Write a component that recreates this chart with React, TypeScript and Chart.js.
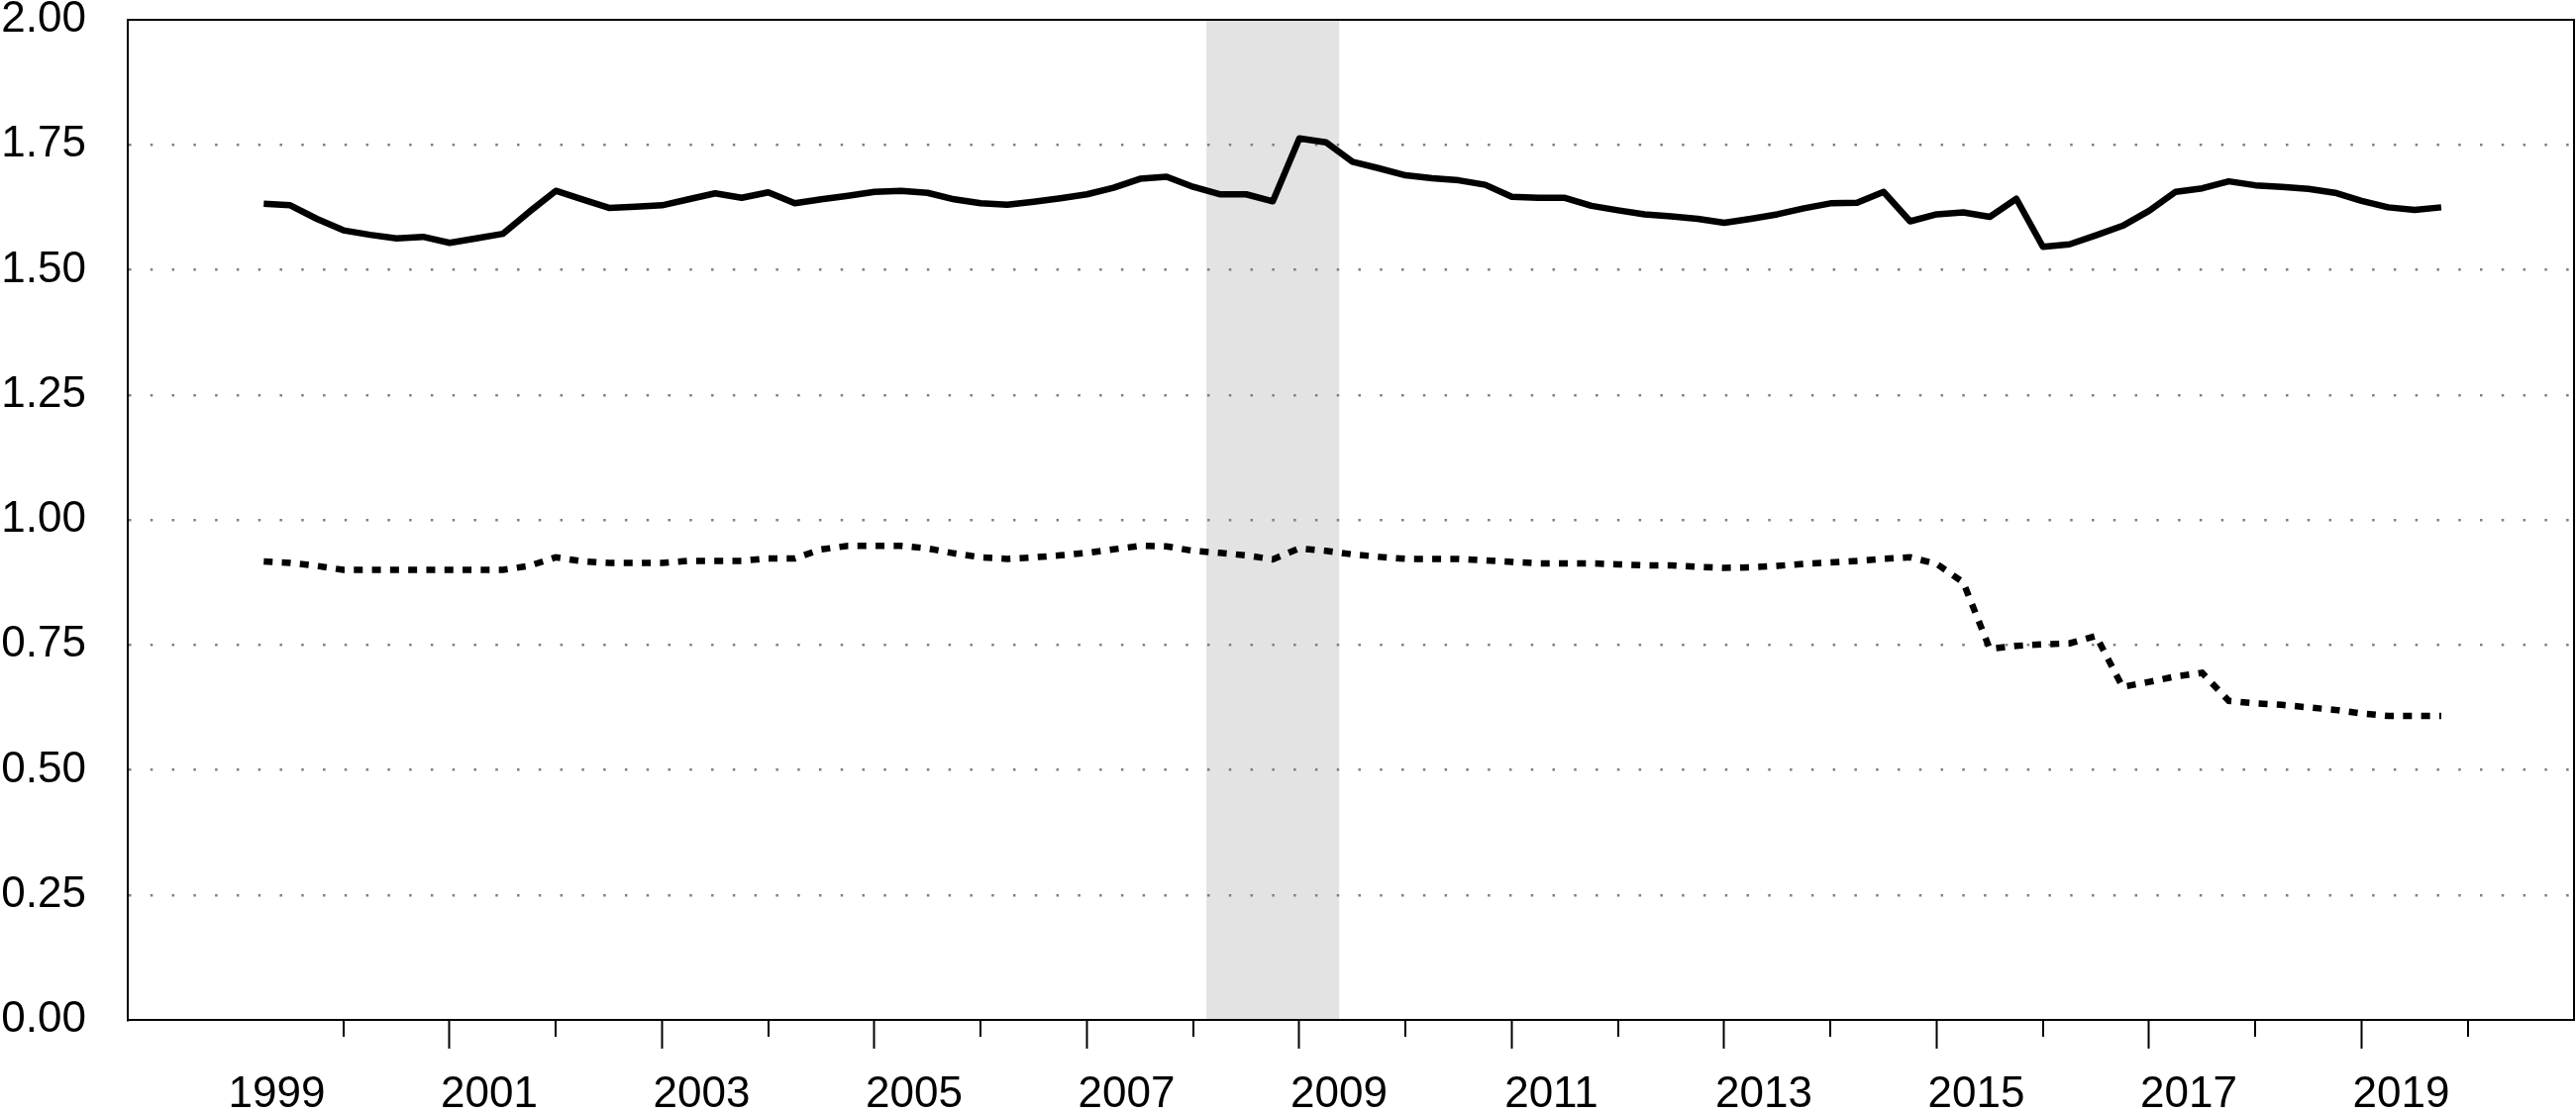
import React, { useEffect, useRef } from "react";
import { Chart, registerables } from "chart.js";

Chart.register(...registerables);

// Quarterly categories (each point is plotted at the start of its quarter)
const QUARTERS: string[] = [
  "1999Q2", "1999Q3", "1999Q4",
  "2000Q1", "2000Q2", "2000Q3", "2000Q4",
  "2001Q1", "2001Q2", "2001Q3", "2001Q4",
  "2002Q1", "2002Q2", "2002Q3", "2002Q4",
  "2003Q1", "2003Q2", "2003Q3", "2003Q4",
  "2004Q1", "2004Q2", "2004Q3", "2004Q4",
  "2005Q1", "2005Q2", "2005Q3", "2005Q4",
  "2006Q1", "2006Q2", "2006Q3", "2006Q4",
  "2007Q1", "2007Q2", "2007Q3", "2007Q4",
  "2008Q1", "2008Q2", "2008Q3", "2008Q4",
  "2009Q1", "2009Q2", "2009Q3", "2009Q4",
  "2010Q1", "2010Q2", "2010Q3", "2010Q4",
  "2011Q1", "2011Q2", "2011Q3", "2011Q4",
  "2012Q1", "2012Q2", "2012Q3", "2012Q4",
  "2013Q1", "2013Q2", "2013Q3", "2013Q4",
  "2014Q1", "2014Q2", "2014Q3", "2014Q4",
  "2015Q1", "2015Q2", "2015Q3", "2015Q4",
  "2016Q1", "2016Q2", "2016Q3", "2016Q4",
  "2017Q1", "2017Q2", "2017Q3", "2017Q4",
  "2018Q1", "2018Q2", "2018Q3", "2018Q4",
  "2019Q1", "2019Q2", "2019Q3", "2019Q4",
];

// Solid series
const SOLID_SERIES: number[] = [
  1.632, 1.629, 1.602,
  1.579, 1.570, 1.563, 1.566,
  1.554, 1.563, 1.572, 1.616,
  1.658, 1.641, 1.624, 1.626,
  1.629, 1.641, 1.653, 1.644,
  1.655, 1.633, 1.641, 1.648,
  1.656, 1.658, 1.654, 1.641,
  1.633, 1.630, 1.636, 1.643,
  1.651, 1.664, 1.682, 1.686,
  1.666, 1.651, 1.651, 1.637,
  1.763, 1.755, 1.716, 1.703,
  1.689, 1.683, 1.679, 1.670,
  1.646, 1.644, 1.644, 1.628,
  1.619, 1.611, 1.607, 1.602,
  1.594, 1.602, 1.611, 1.623,
  1.633, 1.634, 1.656, 1.597,
  1.611, 1.615, 1.606, 1.642,
  1.546, 1.551, 1.569, 1.588,
  1.618, 1.656, 1.663, 1.677,
  1.669, 1.666, 1.662, 1.654,
  1.638, 1.625, 1.620, 1.625,
];

// Dotted series
const DOTTED_SERIES: number[] = [
  0.917, 0.914, 0.908,
  0.900, 0.900, 0.900, 0.900,
  0.900, 0.900, 0.900, 0.908,
  0.925, 0.917, 0.914, 0.914,
  0.914, 0.918, 0.918, 0.918,
  0.923, 0.923, 0.941, 0.948,
  0.948, 0.948, 0.943, 0.933,
  0.925, 0.922, 0.925, 0.929,
  0.934, 0.941, 0.948, 0.947,
  0.938, 0.934, 0.929, 0.921,
  0.943, 0.938, 0.931, 0.926,
  0.922, 0.922, 0.922, 0.919,
  0.916, 0.913, 0.913, 0.913,
  0.911, 0.909, 0.909, 0.906,
  0.904, 0.905, 0.908, 0.912,
  0.915, 0.918, 0.922, 0.925,
  0.912, 0.875, 0.742, 0.748,
  0.751, 0.753, 0.768, 0.666,
  0.676, 0.687, 0.694, 0.638,
  0.633, 0.630, 0.625, 0.620,
  0.613, 0.608, 0.608, 0.608,
];

const Y_TICKS: number[] = [0, 0.25, 0.5, 0.75, 1.0, 1.25, 1.5, 1.75, 2.0];
const X_LABEL_YEARS: number[] = [1999, 2001, 2003, 2005, 2007, 2009, 2011, 2013, 2015, 2017, 2019];
const X_MAJOR_TICK_YEARS: number[] = [2001, 2003, 2005, 2007, 2009, 2011, 2013, 2015, 2017, 2019];
const X_MINOR_TICK_YEARS: number[] = [2000, 2002, 2004, 2006, 2008, 2010, 2012, 2014, 2016, 2018, 2020];
const X_MIN = 1997.97;
const X_MAX = 2021.0;
const RECESSION_START = 2008.125;
const RECESSION_END = 2009.375;

const FONT = { family: "'Liberation Sans', Arial, sans-serif", size: 44 };

function quarterToX(q: string): number {
  const year = Number(q.slice(0, 4));
  const n = Number(q.slice(5));
  return year + (n - 1) / 4;
}

const recessionPlugin = {
  id: "recessionBand",
  beforeDraw(chart: any) {
    const { ctx, chartArea, scales } = chart;
    const x1 = scales.x.getPixelForValue(RECESSION_START);
    const x2 = scales.x.getPixelForValue(RECESSION_END);
    ctx.save();
    ctx.fillStyle = "#e3e3e3";
    ctx.fillRect(x1, chartArea.top, x2 - x1, chartArea.bottom - chartArea.top);
    ctx.restore();
  },
};

const framePlugin = {
  id: "frameAndMinorTicks",
  afterDraw(chart: any) {
    const { ctx, chartArea, scales } = chart;
    ctx.save();
    ctx.strokeStyle = "#000";
    ctx.lineWidth = 2;
    ctx.beginPath();
    ctx.moveTo(chartArea.left, chartArea.top);
    ctx.lineTo(chartArea.right, chartArea.top);
    ctx.lineTo(chartArea.right, chartArea.bottom);
    ctx.stroke();
    X_MINOR_TICK_YEARS.forEach((yr) => {
      const px = Math.round(scales.x.getPixelForValue(yr));
      ctx.beginPath();
      ctx.moveTo(px, chartArea.bottom);
      ctx.lineTo(px, chartArea.bottom + 17);
      ctx.stroke();
    });
    ctx.restore();
  },
};

export default function App() {
  const canvasRef = useRef<HTMLCanvasElement | null>(null);

  useEffect(() => {
    if (!canvasRef.current) return;
    const xs = QUARTERS.map(quarterToX);
    const chart = new Chart(canvasRef.current, {
      type: "line",
      data: {
        datasets: [
          {
            label: "Solid",
            data: xs.map((x, i) => ({ x, y: SOLID_SERIES[i] })),
            borderColor: "#000",
            borderWidth: 6.5,
            pointRadius: 0,
            tension: 0,
            borderJoinStyle: "round",
            borderCapStyle: "butt",
            fill: false,
          },
          {
            label: "Dotted",
            data: xs.map((x, i) => ({ x, y: DOTTED_SERIES[i] })),
            borderColor: "#000",
            borderWidth: 6.5,
            borderDash: [9, 9.3],
            pointRadius: 0,
            tension: 0,
            borderCapStyle: "butt",
            fill: false,
          },
        ],
      },
      options: {
        responsive: false,
        devicePixelRatio: 1,
        animation: false,
        layout: { padding: 0 },
        plugins: {
          legend: { display: false },
          tooltip: { enabled: false },
        },
        scales: {
          x: {
            type: "linear",
            min: X_MIN,
            max: X_MAX,
            afterBuildTicks: (scale: any) => {
              scale.ticks = X_LABEL_YEARS.map((v) => ({ value: v }));
            },
            afterFit: (scale: any) => {
              scale.height = 93;
              scale.paddingLeft = 0;
              scale.paddingRight = 2;
            },
            ticks: {
              autoSkip: false,
              maxRotation: 0,
              minRotation: 0,
              labelOffset: 40,
              padding: 20,
              color: "#000",
              font: FONT,
              callback: (v: any) => String(v),
            },
            grid: {
              display: true,
              drawOnChartArea: false,
              drawTicks: true,
              tickLength: 29,
              tickWidth: 2,
              tickColor: (ctx: any) =>
                ctx.tick && X_MAJOR_TICK_YEARS.includes(ctx.tick.value) ? "#000" : "rgba(0,0,0,0)",
            },
            border: { display: true, color: "#000", width: 2 },
          },
          y: {
            min: 0,
            max: 2,
            afterBuildTicks: (scale: any) => {
              scale.ticks = Y_TICKS.map((v) => ({ value: v }));
            },
            afterFit: (scale: any) => {
              scale.width = 129;
              scale.paddingTop = 20;
              scale.paddingBottom = 0;
            },
            ticks: {
              padding: 42,
              color: "#000",
              font: FONT,
              callback: (v: any) => Number(v).toFixed(2),
            },
            grid: {
              drawTicks: false,
              lineWidth: 2.5,
              color: (ctx: any) =>
                ctx.tick && (ctx.tick.value === 0 || ctx.tick.value === 2) ? "rgba(0,0,0,0)" : "#7f7f7f",
            },
            border: { display: true, color: "#000", width: 2, dash: [2.5, 19.28] },
          },
        },
      },
      plugins: [recessionPlugin, framePlugin],
    } as any);
    return () => chart.destroy();
  }, []);

  return (
    <div style={{ position: "absolute", left: 0, top: 0, width: 2601, height: 1123, background: "#fff" }}>
      <canvas ref={canvasRef} width={2601} height={1123} style={{ display: "block" }} />
    </div>
  );
}
